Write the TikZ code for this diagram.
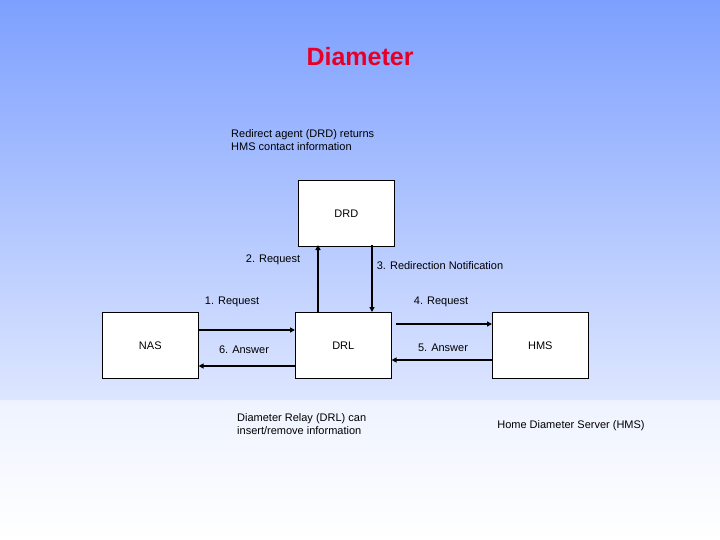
\documentclass[tikz,border=0pt]{standalone}
\usepackage{fontspec}
\setmainfont{Liberation Sans}
\usetikzlibrary{arrows.meta}
\begin{document}
\begin{tikzpicture}[x=1pt,y=-1pt,
  box/.style={draw=black,fill=white,line width=0.6pt,minimum width=96pt,minimum height=66pt,inner sep=0pt,font=\fontsize{11}{13}\selectfont},
  lbl/.style={font=\fontsize{11}{13}\selectfont,inner sep=0pt},
  arr/.style={line width=1.3pt,-{Triangle[length=5pt,width=5pt]}}]
\shade[top color={rgb,255:red,125;green,160;blue,255},bottom color=white] (0,0) rectangle (720,540);
\fill[white] (0,470) rectangle (720,540);
\shade[top color={rgb,255:red,238;green,243;blue,255},bottom color=white] (0,400) rectangle (720,540);
\useasboundingbox (0,0) rectangle (720,540);
\node[font=\fontsize{25}{30}\selectfont\bfseries,text={rgb,255:red,230;green,0;blue,40}] (title) at (360,57) {Diameter};
\node[lbl,anchor=west,align=left] (t1) at (231,140) {Redirect agent (DRD) returns\\HMS contact information};
\node[box,anchor=north west] (drd) at (298,180) {DRD};
\node[box,anchor=north west] (nas) at (102,312) {NAS};
\node[box,anchor=north west] (drl) at (295,312) {DRL};
\node[box,anchor=north west] (hms) at (492,312) {HMS};
\coordinate (a1) at (318,312); \coordinate (b1) at (318,245);
\coordinate (a2) at (372,245); \coordinate (b2) at (372,312);
\draw[arr] (a1) -- (b1);
\draw[arr] (a2) -- (b2);
\draw[arr] (nas.east |- 0,330) -- (drl.west |- 0,330);
\draw[arr] (drl.west |- 0,366) -- (nas.east |- 0,366);
\draw[arr] (396,324) -- (hms.west |- 0,324);
\draw[arr] (hms.west |- 0,360) -- (drl.east |- 0,360);
\node[lbl] (l2) at (273,260) {2. Request};
\node[lbl] (l3) at (440,266) {3. Redirection Notification};
\node[lbl] (l1) at (232,302) {1. Request};
\node[lbl] (l4) at (441,302) {4. Request};
\node[lbl] (l6) at (244,350) {6. Answer};
\node[lbl] (l5) at (443,348) {5. Answer};
\node[lbl,anchor=west,align=left] (t2) at (237,424) {Diameter Relay (DRL) can\\insert/remove information};
\node[lbl] (t3) at (571,426) {Home Diameter Server (HMS)};
\end{tikzpicture}
\end{document}
